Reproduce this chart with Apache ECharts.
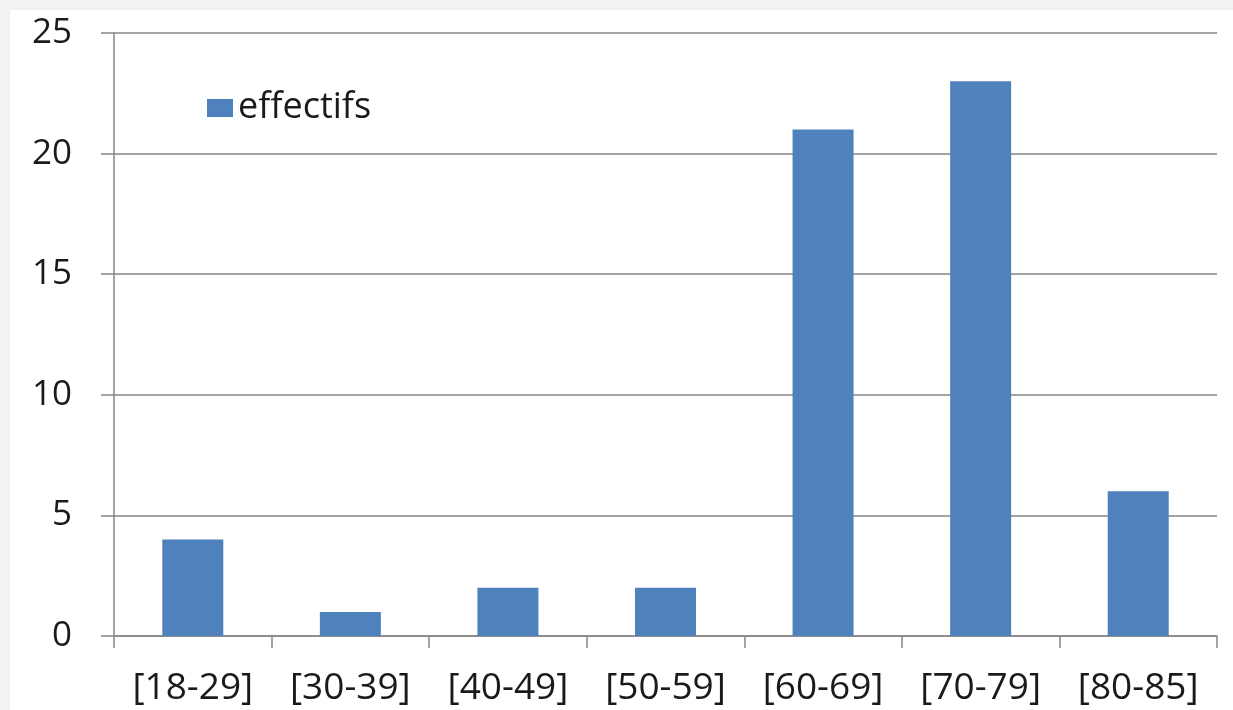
<!DOCTYPE html>
<html>
<head>
<meta charset="utf-8">
<script src="https://cdn.jsdelivr.net/npm/echarts@6/dist/echarts.min.js"></script>
<style>
html,body{margin:0;padding:0;background:#f2f2f2;width:1233px;height:710px;overflow:hidden;}
#chart{position:absolute;left:10px;top:10px;width:1223px;height:700px;background:#ffffff;}
</style>
</head>
<body>
<div id="chart"></div>
<script>
const categories = ['[18-29]','[30-39]','[40-49]','[50-59]','[60-69]','[70-79]','[80-85]'];
const effectifs = [4, 1, 2, 2, 21, 23, 6];
const seriesName = 'effectifs';

const chart = echarts.init(document.getElementById('chart'));
const fontFam = '"Open Sans", "Noto Sans", sans-serif';
chart.setOption({
  animation: false,
  backgroundColor: '#ffffff',
  legend: {
    data: [seriesName],
    left: 192, top: 75,
    itemWidth: 26, itemHeight: 18, itemGap: 9,
    icon: 'rect',
    textStyle: { fontFamily: fontFam, fontSize: 36, color: '#1a1a1a' }
  },
  grid: { left: 104, right: 16, top: 23, bottom: 74 },
  xAxis: {
    type: 'category',
    data: categories,
    axisLine: { lineStyle: { color: '#868686', width: 1.5 } },
    axisTick: { show: true, length: 12, lineStyle: { color: '#868686', width: 1.5 } },
    axisLabel: { fontFamily: fontFam, fontSize: 37, color: '#1a1a1a', margin: 34, interval: 0 }
  },
  yAxis: {
    type: 'value',
    min: 0, max: 25, interval: 5,
    axisLine: { show: true, lineStyle: { color: '#868686', width: 1.5 } },
    axisTick: { show: true, length: 13, lineStyle: { color: '#868686', width: 1.5 } },
    splitLine: { lineStyle: { color: '#868686', width: 1.5 } },
    axisLabel: { fontFamily: fontFam, fontSize: 35, color: '#1a1a1a', margin: 42 }
  },
  series: [{
    name: seriesName,
    type: 'bar',
    data: effectifs,
    barWidth: 61,
    itemStyle: { color: '#4f81bd' }
  }]
});
</script>
</body>
</html>
